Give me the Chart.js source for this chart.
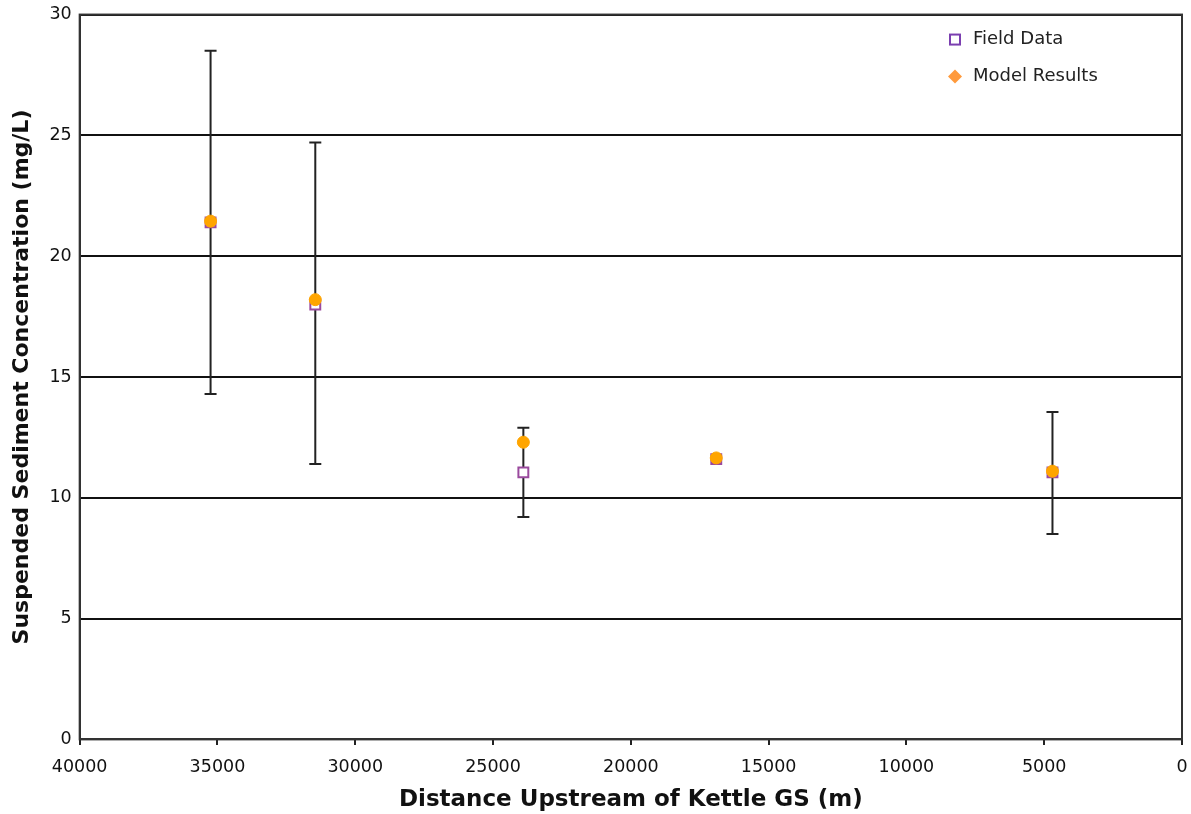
<!DOCTYPE html>
<html>
<head>
    <meta charset="UTF-8">
    <title>Suspended Sediment Concentration</title>
    <style>
        body { margin: 0; padding: 0; background: #fff; }
        canvas { display: block; }
    </style>
</head>
<body>
    <canvas id="sedChart" width="1191" height="814"></canvas>

    <script src="https://cdn.jsdelivr.net/npm/chart.js"></script>
    <script>
        // data
        const distances = [35250, 31450, 23900, 16900, 4700];
        const fieldData = [21.4, 18.0, 11.05, 11.6, 11.05];
        const modelResults = [21.45, 18.2, 12.3, 11.65, 11.1];
        const errLow = [14.3, 11.4, 9.2, null, 8.5];
        const errHigh = [28.5, 24.7, 12.9, null, 13.55];
        const legendNames = ['Field Data', 'Model Results'];

        const xTickFont = { family: 'DejaVu Sans', size: 17.5 };
        const yTickFont = { family: 'DejaVu Sans', size: 17.5, lineHeight: 0.75 };
        const xTitleFont = { family: 'DejaVu Sans', size: 23, weight: 'bold' };
        const yTitleFont = { family: 'DejaVu Sans', size: 22, weight: 'bold' };

        // vertical error bars on the field data
        const errorBars = {
            id: 'errorBars',
            beforeDatasetsDraw(chart) {
                const ctx = chart.ctx;
                const xs = chart.scales.x, ys = chart.scales.y;
                ctx.save();
                ctx.strokeStyle = '#222';
                ctx.lineWidth = 2;
                distances.forEach((d, i) => {
                    if (errLow[i] == null) return;
                    const x = xs.getPixelForValue(d);
                    const y1 = ys.getPixelForValue(errLow[i]);
                    const y2 = ys.getPixelForValue(errHigh[i]);
                    ctx.beginPath();
                    ctx.moveTo(x, y1); ctx.lineTo(x, y2);
                    ctx.moveTo(x - 6, y1); ctx.lineTo(x + 6, y1);
                    ctx.moveTo(x - 6, y2); ctx.lineTo(x + 6, y2);
                    ctx.stroke();
                });
                ctx.restore();
            }
        };

        // frame around the plot + legend inside top right
        const frameLegend = {
            id: 'frameLegend',
            afterDraw(chart) {
                const ctx = chart.ctx;
                const a = chart.chartArea;
                ctx.save();
                ctx.strokeStyle = '#333';
                ctx.lineWidth = 2;
                ctx.strokeRect(a.left, a.top, a.right - a.left, a.bottom - a.top);

                const lx = a.right - 227, ly = a.top + 25;
                ctx.font = '18px "DejaVu Sans"';
                ctx.textBaseline = 'middle';
                ctx.fillStyle = '#222';
                // field data symbol
                ctx.strokeStyle = '#7b3fb0';
                ctx.lineWidth = 2;
                ctx.strokeRect(lx - 5, ly - 5, 10, 10);
                ctx.fillText(legendNames[0], lx + 18, ly);
                // model results symbol
                const ly2 = ly + 37;
                ctx.fillStyle = '#ff9a3c';
                ctx.beginPath();
                ctx.moveTo(lx, ly2 - 7); ctx.lineTo(lx + 7, ly2);
                ctx.lineTo(lx, ly2 + 7); ctx.lineTo(lx - 7, ly2);
                ctx.closePath();
                ctx.fill();
                ctx.fillStyle = '#222';
                ctx.fillText(legendNames[1], lx + 18, ly2);
                ctx.restore();
            }
        };

        const ctx = document.getElementById('sedChart').getContext('2d');
        new Chart(ctx, {
            type: 'scatter',
            data: {
                datasets: [{
                    label: legendNames[0],
                    data: distances.map((d, i) => ({ x: d, y: fieldData[i] })),
                    pointStyle: 'rect',
                    pointRadius: 7,
                    borderColor: '#9a4a9e',
                    backgroundColor: '#fff',
                    pointBorderWidth: 2,
                    order: 2
                }, {
                    label: legendNames[1],
                    data: distances.map((d, i) => ({ x: d, y: modelResults[i] })),
                    pointStyle: 'circle',
                    pointRadius: 6,
                    borderColor: '#ffa500',
                    backgroundColor: '#ffa500',
                    order: 1
                }]
            },
            options: {
                responsive: false,
                animation: false,
                layout: { padding: { left: 5, right: 3, top: 4, bottom: 0 } },
                plugins: {
                    legend: { display: false },
                    tooltip: { enabled: false }
                },
                scales: {
                    x: {
                        type: 'linear',
                        reverse: true,
                        min: 0,
                        max: 40000,
                        ticks: {
                            stepSize: 5000, color: '#111', font: xTickFont, padding: 2,
                            maxRotation: 0, autoSkip: false,
                            callback: v => String(v)
                        },
                        // long tick slot, but only the first 5px is drawn as a mark
                        grid: { drawOnChartArea: false, color: '#222', tickLength: 16, lineWidth: 2, tickBorderDash: [5, 40] },
                        border: { color: '#333', width: 2 },
                        title: { display: true, text: 'Distance Upstream of Kettle GS (m)', color: '#111', font: xTitleFont, padding: { top: 6, bottom: 0 } }
                    },
                    y: {
                        min: 0,
                        max: 30,
                        ticks: { stepSize: 5, color: '#111', font: yTickFont, padding: 8 },
                        grid: { color: '#111', lineWidth: 2, drawTicks: false },
                        border: { color: '#333', width: 2 },
                        title: { display: true, text: 'Suspended Sediment Concentration (mg/L)', color: '#111', font: yTitleFont, padding: { bottom: 6 } }
                    }
                }
            },
            plugins: [errorBars, frameLegend]
        });
    </script>
</body>
</html>
